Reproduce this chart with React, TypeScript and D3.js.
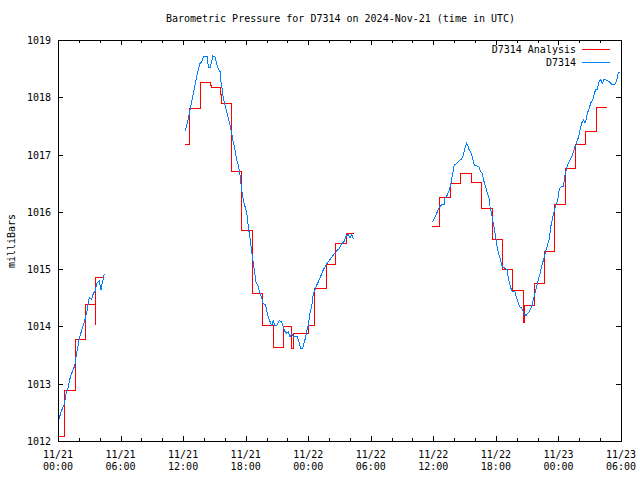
import React from "react";
import * as d3 from "d3";

// Hours after 2024-11-21 00:00 UTC, pressure (mb)
const obsSeg1: [number, number][] = [
  [0.10, 1012.38], [0.29, 1012.51], [0.58, 1012.63], [0.77, 1012.82], [0.99, 1012.95],
  [1.15, 1013.09], [1.31, 1013.18], [1.60, 1013.31], [1.79, 1013.53], [2.04, 1013.78],
  [2.23, 1013.91], [2.43, 1014.02], [2.62, 1014.14], [2.81, 1014.29], [3.00, 1014.51],
  [3.23, 1014.47], [3.39, 1014.58], [3.55, 1014.61], [3.71, 1014.75], [3.96, 1014.80],
  [4.12, 1014.64], [4.25, 1014.76], [4.44, 1014.92],
];

const obsSeg2: [number, number][] = [
  [12.18, 1017.41], [12.34, 1017.50], [12.50, 1017.63], [12.66, 1017.77], [12.82, 1017.92],
  [12.98, 1018.07], [13.14, 1018.21], [13.30, 1018.36], [13.46, 1018.48], [13.62, 1018.59],
  [13.78, 1018.62], [13.94, 1018.71], [14.13, 1018.72], [14.32, 1018.71], [14.42, 1018.53],
  [14.58, 1018.51], [14.74, 1018.62], [14.84, 1018.72], [15.06, 1018.71], [15.22, 1018.59],
  [15.38, 1018.49], [15.54, 1018.45], [15.63, 1018.27], [15.76, 1018.13], [15.86, 1017.98],
  [16.02, 1017.87], [16.18, 1017.75], [16.33, 1017.63], [16.50, 1017.52], [16.66, 1017.37],
  [16.81, 1017.22], [16.98, 1017.08], [17.14, 1016.91], [17.29, 1016.82], [17.46, 1016.64],
  [17.62, 1016.38], [17.84, 1016.15], [18.10, 1016.00], [18.25, 1015.74], [18.42, 1015.54],
  [18.58, 1015.30], [18.73, 1015.10], [18.83, 1014.99], [18.99, 1014.78], [19.21, 1014.69],
  [19.37, 1014.58], [19.54, 1014.49], [19.69, 1014.40], [19.92, 1014.37], [20.07, 1014.23],
  [20.27, 1014.11], [20.50, 1014.02], [20.65, 1014.10], [20.81, 1014.02], [20.98, 1014.02],
  [21.20, 1014.10], [21.46, 1014.08], [21.61, 1014.00], [21.77, 1013.91], [21.94, 1013.88],
  [22.09, 1013.91], [22.25, 1013.82], [22.42, 1013.88], [22.57, 1013.82], [22.73, 1013.83],
  [22.95, 1013.82], [23.12, 1013.73], [23.28, 1013.62], [23.47, 1013.62], [23.60, 1013.71],
  [23.72, 1013.79], [23.85, 1013.91], [24.01, 1014.02], [24.17, 1014.23], [24.33, 1014.34],
  [24.49, 1014.58], [24.65, 1014.64], [24.81, 1014.72], [24.97, 1014.78], [25.13, 1014.84],
  [25.29, 1014.92], [25.45, 1014.99], [25.61, 1015.04], [25.77, 1015.09], [25.93, 1015.13],
  [26.25, 1015.21], [26.57, 1015.28], [26.73, 1015.32], [26.98, 1015.36], [27.21, 1015.44],
  [27.43, 1015.48], [27.62, 1015.57], [27.84, 1015.61], [28.01, 1015.54], [28.17, 1015.60],
  [28.32, 1015.54], [28.42, 1015.54],
];

const obsSeg3: [number, number][] = [
  [35.90, 1015.82], [36.06, 1015.87], [36.23, 1015.93], [36.38, 1016.00], [36.57, 1016.08],
  [36.80, 1016.12], [37.02, 1016.12], [37.12, 1016.24], [37.34, 1016.29], [37.53, 1016.38],
  [37.69, 1016.50], [37.86, 1016.67], [38.01, 1016.82], [38.24, 1016.84], [38.40, 1016.88],
  [38.56, 1016.91], [38.72, 1016.92], [38.87, 1016.99], [39.04, 1017.11], [39.20, 1017.20],
  [39.30, 1017.17], [39.42, 1017.09], [39.58, 1017.05], [39.74, 1016.96], [39.93, 1016.82],
  [40.16, 1016.80], [40.38, 1016.79], [40.54, 1016.70], [40.70, 1016.67], [40.86, 1016.53],
  [41.02, 1016.44], [41.18, 1016.32], [41.34, 1016.24], [41.44, 1016.09], [41.60, 1015.97],
  [41.69, 1015.86], [41.82, 1015.74], [41.98, 1015.57], [42.08, 1015.42], [42.23, 1015.30],
  [42.39, 1015.19], [42.56, 1015.07], [42.71, 1015.03], [42.94, 1015.01], [43.09, 1014.99],
  [43.19, 1014.84], [43.35, 1014.72], [43.52, 1014.62], [43.83, 1014.61], [43.99, 1014.49],
  [44.15, 1014.41], [44.31, 1014.34], [44.48, 1014.32], [44.70, 1014.23], [44.89, 1014.18],
  [45.01, 1014.22], [45.20, 1014.26], [45.43, 1014.34], [45.59, 1014.46], [45.75, 1014.58],
  [45.91, 1014.69], [46.07, 1014.81], [46.23, 1014.92], [46.42, 1015.07], [46.61, 1015.19],
  [46.81, 1015.33], [46.95, 1015.42], [47.12, 1015.52], [47.26, 1015.74], [47.41, 1015.86],
  [47.57, 1016.00], [47.77, 1016.12], [47.99, 1016.26], [48.08, 1016.41], [48.31, 1016.44],
  [48.47, 1016.44], [48.63, 1016.64], [48.79, 1016.76], [48.94, 1016.85], [49.11, 1016.91],
  [49.20, 1016.94], [49.33, 1016.99], [49.49, 1017.08], [49.59, 1017.14], [49.68, 1017.17],
  [49.81, 1017.25], [49.94, 1017.31], [50.07, 1017.43], [50.23, 1017.55], [50.39, 1017.60],
  [50.55, 1017.55], [50.64, 1017.60], [50.77, 1017.72], [50.96, 1017.81], [51.09, 1017.90],
  [51.29, 1017.95], [51.44, 1018.07], [51.57, 1018.13], [51.73, 1018.14], [51.89, 1018.27],
  [52.05, 1018.31], [52.21, 1018.24], [52.37, 1018.31], [52.63, 1018.30], [52.88, 1018.27],
  [53.11, 1018.23], [53.42, 1018.23], [53.59, 1018.30], [53.74, 1018.42], [53.90, 1018.44],
];

// Analysis (stepped): [hour the value starts, value]
const anaSeg1: [number, number][] = [
  [0.00, 1012.07], [0.60, 1012.89], [1.70, 1013.78], [2.60, 1014.39], [3.55, 1014.03],
  [3.62, 1014.86], [4.44, 1014.86],
];

const anaSeg2: [number, number][] = [
  [12.18, 1017.18], [12.63, 1017.81], [13.69, 1018.26], [14.61, 1018.21], [14.70, 1018.17],
  [15.61, 1018.04], [15.70, 1017.90], [16.66, 1016.70], [17.62, 1015.67], [18.67, 1014.57],
  [19.63, 1014.01], [20.65, 1013.64], [21.61, 1014.00], [22.42, 1013.62], [22.57, 1013.87],
  [24.01, 1014.01], [24.63, 1014.67], [25.71, 1015.08], [26.64, 1015.44], [27.69, 1015.63],
  [28.42, 1015.63],
];

const anaSeg3: [number, number][] = [
  [35.90, 1015.75], [36.57, 1016.25], [37.66, 1016.50], [38.65, 1016.67], [39.68, 1016.52],
  [40.64, 1016.06], [41.69, 1015.52], [42.65, 1014.99], [43.61, 1014.62], [44.63, 1014.07],
  [44.79, 1014.37], [45.68, 1014.75], [46.66, 1015.30], [47.60, 1016.12], [48.70, 1016.75],
  [49.68, 1017.18], [50.64, 1017.41], [51.67, 1017.82], [52.63, 1017.82],
];

const xTickHours = [0, 6, 12, 18, 24, 30, 36, 42, 48, 54];
const xTickDates = ["11/21", "11/21", "11/21", "11/21", "11/22", "11/22", "11/22", "11/22", "11/23", "11/23"];
const xTickTimes = ["00:00", "06:00", "12:00", "18:00", "00:00", "06:00", "12:00", "18:00", "00:00", "06:00"];
const yTicks = [1012, 1013, 1014, 1015, 1016, 1017, 1018, 1019];

const title = "Barometric Pressure for D7314 on 2024-Nov-21 (time in UTC)";
const yLabel = "milliBars";
const seriesNames = ["D7314 Analysis", "D7314"];

const W = 640, H = 480;
const L = 58, R = 621, T = 40, B = 441;
const RED = "#ff0000";
const BLUE = "#0080ff";
const FONT = "'DejaVu Sans Mono', 'Liberation Mono', monospace";

export default function App() {
  const x = d3.scaleLinear().domain([0, 54]).range([L, R]);
  const y = d3.scaleLinear().domain([1012, 1019]).range([B, T]);

  const obsLine = d3.line<[number, number]>().x(d => x(d[0])).y(d => y(d[1]));
  const anaLine = d3.line<[number, number]>().x(d => x(d[0])).y(d => y(d[1])).curve(d3.curveStepAfter);

  const minorX = d3.range(0, 55, 2).filter(h => h % 6 !== 0);

  return (
    <svg width={W} height={H} style={{ position: "absolute", left: 0, top: 0, background: "#fff" }}
      fontFamily={FONT} fontSize={10}>
      <rect x={0} y={0} width={W} height={H} fill="#fff" />
      <text x={(L + R) / 2 + 1} y={22} textAnchor="middle">{title}</text>
      <text transform={`translate(15,241) rotate(-90)`} textAnchor="middle">{yLabel}</text>

      <g shapeRendering="crispEdges" stroke="#000" strokeWidth={1}>
        {xTickHours.map(h => (
          <g key={"xt" + h}>
            <line x1={Math.round(x(h)) + 0.5} x2={Math.round(x(h)) + 0.5} y1={B} y2={B - 5} />
            <line x1={Math.round(x(h)) + 0.5} x2={Math.round(x(h)) + 0.5} y1={T} y2={T + 5} />
          </g>
        ))}
        {minorX.map(h => (
          <g key={"xm" + h}>
            <line x1={Math.round(x(h)) + 0.5} x2={Math.round(x(h)) + 0.5} y1={B} y2={B - 3} />
            <line x1={Math.round(x(h)) + 0.5} x2={Math.round(x(h)) + 0.5} y1={T} y2={T + 3} />
          </g>
        ))}
        {yTicks.map(v => (
          <g key={"yt" + v}>
            <line x1={L} x2={L + 5} y1={Math.round(y(v)) + 0.5} y2={Math.round(y(v)) + 0.5} />
            <line x1={R} x2={R - 5} y1={Math.round(y(v)) + 0.5} y2={Math.round(y(v)) + 0.5} />
          </g>
        ))}
      </g>

      {yTicks.map(v => (
        <text key={"yl" + v} x={51} y={y(v) + 4} textAnchor="end">{v}</text>
      ))}
      {xTickHours.map((h, i) => (
        <g key={"xl" + h}>
          <text x={x(h)} y={458} textAnchor="middle">{xTickDates[i]}</text>
          <text x={x(h)} y={470} textAnchor="middle">{xTickTimes[i]}</text>
        </g>
      ))}

      <g fill="none" strokeWidth={1} shapeRendering="crispEdges">
        {[anaSeg1, anaSeg2, anaSeg3].map((s, i) => (
          <path key={"a" + i} d={anaLine(s) || ""} stroke={RED} />
        ))}
        {[obsSeg1, obsSeg2, obsSeg3].map((s, i) => (
          <path key={"o" + i} d={obsLine(s) || ""} stroke={BLUE} />
        ))}
      </g>

      <g>
        <text x={576} y={53} textAnchor="end">{seriesNames[0]}</text>
        <line x1={582} x2={610} y1={49.5} y2={49.5} stroke={RED} shapeRendering="crispEdges" />
        <text x={576} y={66} textAnchor="end">{seriesNames[1]}</text>
        <line x1={582} x2={610} y1={62.5} y2={62.5} stroke={BLUE} shapeRendering="crispEdges" />
      </g>

      <rect x={L + 0.5} y={T + 0.5} width={R - L} height={B - T} fill="none" stroke="#000"
        strokeWidth={1} shapeRendering="crispEdges" />
    </svg>
  );
}
